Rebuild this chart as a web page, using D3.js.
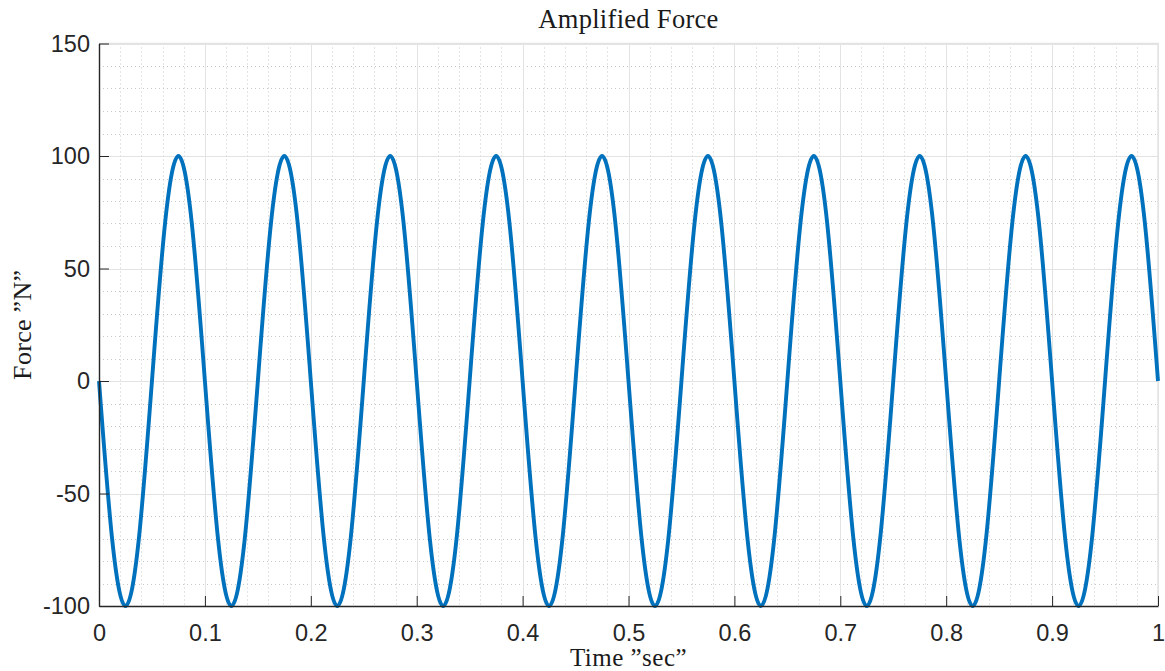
<!DOCTYPE html>
<html>
<head>
<meta charset="utf-8">
<script src="https://cdn.jsdelivr.net/npm/d3@7"></script>
<style>
  html, body { margin: 0; padding: 0; background: #fff; }
  svg { display: block; }
</style>
</head>
<body>
<svg id="chart" width="1165" height="671"></svg>
<script>
'use strict';

// sample times, sec
const times = [
    0, 0.0125, 0.025, 0.0375, 0.05, 0.0625, 0.075, 0.0875,
    0.1, 0.1125, 0.125, 0.1375, 0.15, 0.1625, 0.175, 0.1875,
    0.2, 0.2125, 0.225, 0.2375, 0.25, 0.2625, 0.275, 0.2875,
    0.3, 0.3125, 0.325, 0.3375, 0.35, 0.3625, 0.375, 0.3875,
    0.4, 0.4125, 0.425, 0.4375, 0.45, 0.4625, 0.475, 0.4875,
    0.5, 0.5125, 0.525, 0.5375, 0.55, 0.5625, 0.575, 0.5875,
    0.6, 0.6125, 0.625, 0.6375, 0.65, 0.6625, 0.675, 0.6875,
    0.7, 0.7125, 0.725, 0.7375, 0.75, 0.7625, 0.775, 0.7875,
    0.8, 0.8125, 0.825, 0.8375, 0.85, 0.8625, 0.875, 0.8875,
    0.9, 0.9125, 0.925, 0.9375, 0.95, 0.9625, 0.975, 0.9875,
    1
];

// force, N
const force = [
    0, -70.7, -100, -70.7, 0, 70.7, 100, 70.7,
    0, -70.7, -100, -70.7, 0, 70.7, 100, 70.7,
    0, -70.7, -100, -70.7, 0, 70.7, 100, 70.7,
    0, -70.7, -100, -70.7, 0, 70.7, 100, 70.7,
    0, -70.7, -100, -70.7, 0, 70.7, 100, 70.7,
    0, -70.7, -100, -70.7, 0, 70.7, 100, 70.7,
    0, -70.7, -100, -70.7, 0, 70.7, 100, 70.7,
    0, -70.7, -100, -70.7, 0, 70.7, 100, 70.7,
    0, -70.7, -100, -70.7, 0, 70.7, 100, 70.7,
    0, -70.7, -100, -70.7, 0, 70.7, 100, 70.7,
    0
];

const x_ticks = [0, 0.1, 0.2, 0.3, 0.4, 0.5, 0.6, 0.7, 0.8, 0.9, 1];
const y_ticks = [-100, -50, 0, 50, 100, 150];
const x_minor = [0.02, 0.04, 0.06, 0.08, 0.12, 0.14, 0.16, 0.18, 0.22, 0.24, 0.26, 0.28,
    0.32, 0.34, 0.36, 0.38, 0.42, 0.44, 0.46, 0.48, 0.52, 0.54, 0.56, 0.58,
    0.62, 0.64, 0.66, 0.68, 0.72, 0.74, 0.76, 0.78, 0.82, 0.84, 0.86, 0.88,
    0.92, 0.94, 0.96, 0.98];
const y_minor = [-90, -80, -70, -60, -40, -30, -20, -10, 10, 20, 30, 40,
    60, 70, 80, 90, 110, 120, 130, 140];

const title = 'Amplified Force';
const x_label = 'Time \u201Dsec\u201D';
const y_label = 'Force \u201DN\u201D';

const margin = { top: 43.5, right: 7, bottom: 65, left: 99 };
const width = 1165;
const height = 671;

const svg = d3.select('#chart');

const x = d3.scaleLinear()
    .domain([0, 1])
    .range([margin.left, width - margin.right]);

const y = d3.scaleLinear()
    .domain([-100, 150])
    .range([height - margin.bottom, margin.top]);

const serif = '"Liberation Serif", "DejaVu Serif", serif';
const sans = '"Liberation Sans", Arial, sans-serif';

// minor grid (dotted)
const minor = svg.append('g')
    .attr('stroke', '#c8c8c8')
    .attr('stroke-width', 1)
    .attr('stroke-dasharray', '1,3');

minor.selectAll('line.vx')
    .data(x_minor)
    .join('line')
        .attr('class', 'vx')
        .attr('x1', d => Math.round(x(d)) + 0.5)
        .attr('x2', d => Math.round(x(d)) + 0.5)
        .attr('y1', y.range()[1])
        .attr('y2', y.range()[0]);

minor.selectAll('line.hy')
    .data(y_minor)
    .join('line')
        .attr('class', 'hy')
        .attr('x1', x.range()[0])
        .attr('x2', x.range()[1])
        .attr('y1', d => Math.round(y(d)) + 0.5)
        .attr('y2', d => Math.round(y(d)) + 0.5);

// major grid
const major = svg.append('g')
    .attr('stroke', '#e3e3e3')
    .attr('stroke-width', 1);

major.selectAll('line.vx')
    .data(x_ticks)
    .join('line')
        .attr('class', 'vx')
        .attr('x1', d => Math.round(x(d)) + 0.5)
        .attr('x2', d => Math.round(x(d)) + 0.5)
        .attr('y1', y.range()[1])
        .attr('y2', y.range()[0]);

major.selectAll('line.hy')
    .data(y_ticks)
    .join('line')
        .attr('class', 'hy')
        .attr('x1', x.range()[0])
        .attr('x2', x.range()[1])
        .attr('y1', d => Math.round(y(d)) + 0.5)
        .attr('y2', d => Math.round(y(d)) + 0.5);

// top / right box edges in light grey
svg.append('path')
    .attr('fill', 'none')
    .attr('stroke', '#e3e3e3')
    .attr('stroke-width', 1.5)
    .attr('d', `M${x.range()[0]},${y.range()[1]}H${x.range()[1]}V${y.range()[0]}`);

// the force curve
const line = d3.line()
    .x((d, i) => x(times[i]))
    .y(d => y(d))
    .curve(d3.curveNatural);

svg.append('path')
    .datum(force)
    .attr('fill', 'none')
    .attr('stroke', '#0072BD')
    .attr('stroke-width', 3.9)
    .attr('stroke-linejoin', 'round')
    .attr('d', line);

// x-axis
svg.append('g')
    .attr('transform', `translate(0, ${y.range()[0]})`)
    .call(d3.axisBottom(x)
        .tickValues(x_ticks)
        .tickFormat(d => String(d))
        .tickSizeInner(-10)
        .tickSizeOuter(0)
        .tickPadding(18))
    .call(g => g.select('.domain').attr('stroke', '#262626').attr('stroke-width', 1.4))
    .call(g => g.selectAll('.tick line').attr('stroke', '#262626'))
    .call(g => g.selectAll('.tick text')
        .attr('fill', '#262626')
        .attr('font-family', sans)
        .attr('font-size', 23.5));

// y-axis
svg.append('g')
    .attr('transform', `translate(${x.range()[0]}, 0)`)
    .call(d3.axisLeft(y)
        .tickValues(y_ticks)
        .tickFormat(d => String(d))
        .tickSizeInner(-10)
        .tickSizeOuter(0)
        .tickPadding(9))
    .call(g => g.select('.domain').attr('stroke', '#262626').attr('stroke-width', 1.4))
    .call(g => g.selectAll('.tick line').attr('stroke', '#262626'))
    .call(g => g.selectAll('.tick text')
        .attr('fill', '#262626')
        .attr('font-family', sans)
        .attr('font-size', 23.5));

// texts
const mid_x = (x.range()[0] + x.range()[1]) / 2;
const mid_y = (y.range()[0] + y.range()[1]) / 2;

svg.append('text')
    .attr('x', mid_x)
    .attr('y', 28)
    .attr('text-anchor', 'middle')
    .attr('font-family', serif)
    .attr('font-size', 26.5)
    .attr('letter-spacing', 0.3)
    .attr('fill', '#1a1a1a')
    .text(title);

svg.append('text')
    .attr('x', mid_x)
    .attr('y', 665.5)
    .attr('text-anchor', 'middle')
    .attr('font-family', serif)
    .attr('font-size', 25)
    .attr('letter-spacing', 0.5)
    .attr('fill', '#1a1a1a')
    .text(x_label);

svg.append('text')
    .attr('transform', `translate(31, ${mid_y}) rotate(-90)`)
    .attr('text-anchor', 'middle')
    .attr('font-family', serif)
    .attr('font-size', 26)
    .attr('letter-spacing', 0.3)
    .attr('fill', '#1a1a1a')
    .text(y_label);
</script>
</body>
</html>
